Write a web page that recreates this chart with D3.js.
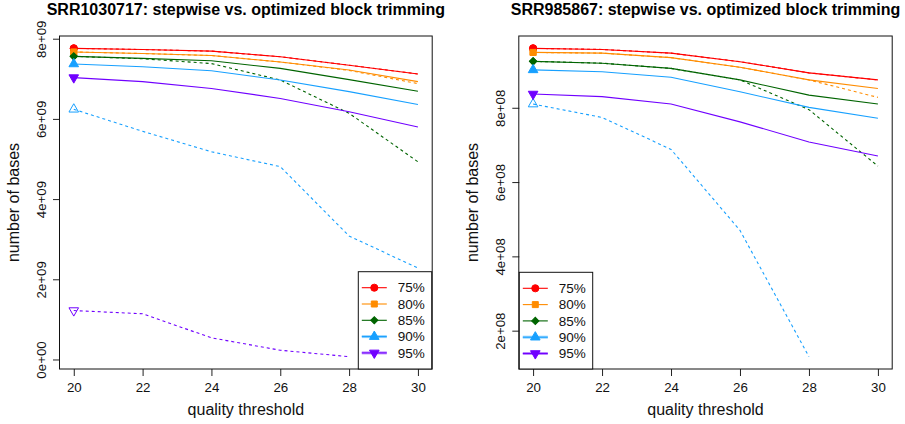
<!DOCTYPE html>
<html>
<head>
<meta charset="utf-8">
<script src="https://cdn.jsdelivr.net/npm/d3@7"></script>
<style>
  body { margin: 0; background: #fff; }
  svg { display: block; font-family: "Liberation Sans", Arial, Helvetica, sans-serif; }
</style>
</head>
<body>
<svg id="chart" width="905" height="424"></svg>
<script>
// Quality thresholds on the x axis and the trimming levels (one series per level)
const thresholds = [20, 22, 24, 26, 28, 30];
const levels = ["75%", "80%", "85%", "90%", "95%"];
const levelColors = ["#ff0000", "#ff8c00", "#006400", "#17a0ff", "#7000ff"];
const levelShapes = ["circle", "square", "diamond", "triangle", "triangleDown"];

// SRR1030717: number of bases kept, optimized (solid) and stepwise (dashed)
const srr1030717Optimized = [
  [7.76e9, 7.73e9, 7.69e9, 7.55e9, 7.34e9, 7.12e9],
  [7.67e9, 7.63e9, 7.58e9, 7.42e9, 7.22e9, 6.93e9],
  [7.56e9, 7.51e9, 7.45e9, 7.26e9, 6.98e9, 6.69e9],
  [7.37e9, 7.30e9, 7.20e9, 6.97e9, 6.68e9, 6.36e9],
  [7.03e9, 6.93e9, 6.76e9, 6.51e9, 6.18e9, 5.80e9]
];
const srr1030717Stepwise = [
  [7.76e9, 7.73e9, 7.69e9, 7.55e9, 7.34e9, 7.12e9],
  [7.67e9, 7.63e9, 7.58e9, 7.42e9, 7.21e9, 6.88e9],
  [7.56e9, 7.50e9, 7.38e9, 6.97e9, 6.14e9, 4.93e9],
  [6.24e9, 5.69e9, 5.18e9, 4.81e9, 3.08e9, 2.28e9],
  [1.22e9, 1.14e9, 0.54e9, 0.23e9, 0.07e9, null]
];
const srr1030717YTicks = [0, 2e9, 4e9, 6e9, 8e9];

// SRR985867: number of bases kept, optimized (solid) and stepwise (dashed)
const srr985867Optimized = [
  [9.60e8, 9.57e8, 9.47e8, 9.24e8, 8.94e8, 8.75e8],
  [9.49e8, 9.47e8, 9.35e8, 9.09e8, 8.75e8, 8.52e8],
  [9.25e8, 9.20e8, 9.06e8, 8.75e8, 8.34e8, 8.10e8],
  [9.02e8, 8.97e8, 8.82e8, 8.43e8, 8.01e8, 7.72e8],
  [8.37e8, 8.30e8, 8.10e8, 7.62e8, 7.08e8, 6.70e8]
];
const srr985867Stepwise = [
  [9.60e8, 9.57e8, 9.47e8, 9.24e8, 8.94e8, 8.75e8],
  [9.49e8, 9.47e8, 9.35e8, 9.09e8, 8.75e8, 8.28e8],
  [9.25e8, 9.20e8, 9.06e8, 8.75e8, 7.95e8, 6.43e8],
  [8.10e8, 7.74e8, 6.88e8, 4.70e8, 1.30e8, null],
  [null, null, null, null, null, null]
];
const srr985867YTicks = [2e8, 4e8, 6e8, 8e8];

const svg = d3.select("#chart");

// "2e+09" style tick labels
function sciLabel(v) {
  if (v === 0) return "0e+00";
  const e = Math.floor(Math.log10(Math.abs(v)));
  const m = Math.round(v / Math.pow(10, e));
  return m + "e" + (e < 0 ? "-" : "+") + String(Math.abs(e)).padStart(2, "0");
}

// diamond = square turned 45 degrees, as wide as it is tall
function symbolPath(shape, size) {
  const types = {
    circle: d3.symbolCircle, square: d3.symbolSquare, diamond: d3.symbolSquare,
    triangle: d3.symbolTriangle, triangleDown: d3.symbolTriangle
  };
  return d3.symbol().type(types[shape]).size(size)();
}
const shapeSizes = { circle: 40, square: 36, diamond: 26, triangle: 40, triangleDown: 40 };
const shapeRotation = { circle: 0, square: 0, diamond: 45, triangle: 0, triangleDown: 180 };

function drawMarker(g, shape, cx, cy, color, filled) {
  g.append("path")
    .attr("d", symbolPath(shape, shapeSizes[shape]))
    .attr("transform", `translate(${cx},${cy}) rotate(${shapeRotation[shape]})`)
    .attr("fill", filled ? color : "none")
    .attr("stroke", color)
    .attr("stroke-width", 1);
}

function drawPanel(opts) {
  const { left, right, top, bottom, title, optimized, stepwise, yTicks, legendAt } = opts;
  const g = svg.append("g");

  const x = d3.scaleLinear()
    .domain(d3.extent(thresholds)).range([left, right]);
  // R-style 4% padding on both axes
  const xd = x.domain(), xp = (xd[1] - xd[0]) * 0.04;
  x.domain([xd[0] - xp, xd[1] + xp]);

  const allVals = optimized.flat().concat(stepwise.flat()).filter(v => v != null);
  const [lo, hi] = d3.extent(allVals);
  const yp = (hi - lo) * 0.04;
  const y = d3.scaleLinear().domain([lo - yp, hi + yp]).range([bottom, top]);

  const line = d3.line()
    .defined(d => d.v != null)
    .x(d => x(d.t))
    .y(d => y(d.v));

  levels.forEach((lev, i) => {
    const stepPts = thresholds.map((t, j) => ({ t, v: stepwise[i][j] }));
    g.append("path")
      .attr("d", line(stepPts))
      .attr("fill", "none")
      .attr("stroke", levelColors[i])
      .attr("stroke-width", 1.1)
      .attr("stroke-dasharray", "3,3");
    if (stepPts[0].v != null) {
      drawMarker(g, levelShapes[i], x(stepPts[0].t), y(stepPts[0].v), levelColors[i], false);
    }
  });
  levels.forEach((lev, i) => {
    const optPts = thresholds.map((t, j) => ({ t, v: optimized[i][j] }));
    g.append("path")
      .attr("d", line(optPts))
      .attr("fill", "none")
      .attr("stroke", levelColors[i])
      .attr("stroke-width", 1.1);
    drawMarker(g, levelShapes[i], x(optPts[0].t), y(optPts[0].v), levelColors[i], true);
  });

  // x axis
  const xAxis = g.append("g")
    .attr("transform", `translate(0,${bottom})`)
    .call(d3.axisBottom(x).tickValues(thresholds).tickSize(7).tickSizeOuter(0));
  xAxis.select(".domain").remove();
  xAxis.selectAll("line").attr("stroke", "#222");
  xAxis.selectAll("text")
    .attr("y", 22.5).attr("dy", 0)
    .attr("font-size", "13.3px").attr("fill", "#111")
    .attr("font-family", "Liberation Sans, Arial, sans-serif");

  // y axis with labels parallel to the axis
  const yAxis = g.append("g")
    .attr("transform", `translate(${left},0)`)
    .call(d3.axisLeft(y).tickValues(yTicks).tickSize(7).tickSizeOuter(0).tickFormat(sciLabel));
  yAxis.select(".domain").remove();
  yAxis.selectAll("line").attr("stroke", "#222");
  yAxis.selectAll("text")
    .attr("x", 0).attr("dy", 0)
    .attr("transform", "translate(-14,0) rotate(-90)")
    .attr("text-anchor", "middle")
    .attr("font-size", "13.3px").attr("fill", "#111")
    .attr("font-family", "Liberation Sans, Arial, sans-serif");

  // plot frame
  g.append("rect")
    .attr("x", left - 0.5).attr("y", top)
    .attr("width", right - left + 1).attr("height", bottom - top)
    .attr("fill", "none").attr("stroke", "#111").attr("stroke-width", 1);

  // titles
  g.append("text")
    .attr("x", (left + right) / 2).attr("y", 15)
    .attr("text-anchor", "middle")
    .attr("font-size", "16px").attr("font-weight", "bold")
    .text(title);
  g.append("text")
    .attr("x", (left + right) / 2).attr("y", 415)
    .attr("text-anchor", "middle")
    .attr("font-size", "16px").attr("fill", "#111")
    .text("quality threshold");
  g.append("text")
    .attr("transform", `translate(${left - 41},${(top + bottom) / 2}) rotate(-90)`)
    .attr("text-anchor", "middle")
    .attr("font-size", "16px").attr("fill", "#111")
    .text("number of bases");

  // legend
  const lg = g.append("g").attr("transform", `translate(${legendAt[0]},${legendAt[1]})`);
  const lw = 73.4, lh = bottom - legendAt[1];
  lg.append("rect")
    .attr("x", 0).attr("y", 0).attr("width", lw).attr("height", lh)
    .attr("fill", "#fff").attr("stroke", "#111").attr("stroke-width", 1);
  levels.forEach((lev, i) => {
    const ry = 16 + i * 16.3;
    if (i >= 3) {
      lg.append("line")
        .attr("x1", 3.5).attr("x2", 28.5).attr("y1", ry).attr("y2", ry)
        .attr("stroke", levelColors[i]).attr("stroke-opacity", 0.45).attr("stroke-width", 3);
    }
    lg.append("line")
      .attr("x1", 3.5).attr("x2", 28.5).attr("y1", ry).attr("y2", ry)
      .attr("stroke", levelColors[i]).attr("stroke-width", 1.1);
    drawMarker(lg, levelShapes[i], 16, ry, levelColors[i], true);
    lg.append("text")
      .attr("x", 39.5).attr("y", ry + 4.8)
      .attr("font-size", "13.5px").attr("fill", "#111")
      .text(lev);
  });
}

drawPanel({
  left: 60, right: 431.7, top: 36, bottom: 369,
  title: "SRR1030717: stepwise vs. optimized block trimming",
  optimized: srr1030717Optimized, stepwise: srr1030717Stepwise,
  yTicks: srr1030717YTicks, legendAt: [358.3, 271.7]
});
drawPanel({
  left: 519.3, right: 891.7, top: 36, bottom: 369,
  title: "SRR985867: stepwise vs. optimized block trimming",
  optimized: srr985867Optimized, stepwise: srr985867Stepwise,
  yTicks: srr985867YTicks, legendAt: [519.3, 272.3]
});
</script>
</body>
</html>
